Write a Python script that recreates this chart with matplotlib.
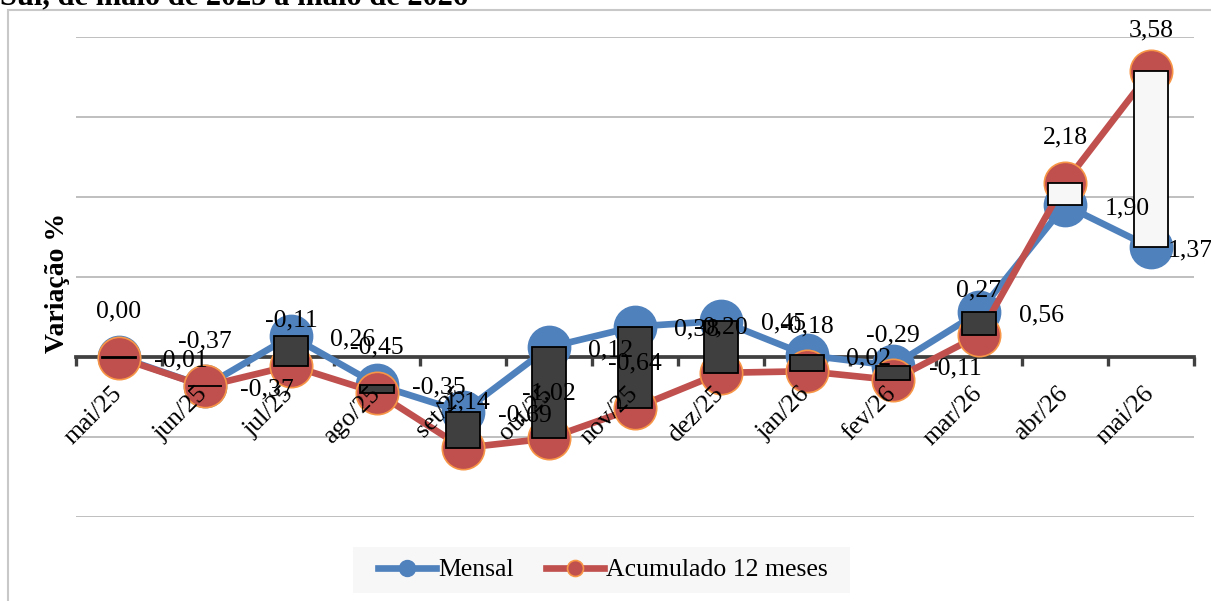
import numpy as np
import matplotlib
matplotlib.use("Agg")
import matplotlib.pyplot as plt
from matplotlib.lines import Line2D
from matplotlib.patches import Rectangle

# ---------------- data ----------------
categories = ["mai/25", "jun/25", "jul/25", "ago/25", "set/25", "out/25", "nov/25",
              "dez/25", "jan/26", "fev/26", "mar/26", "abr/26", "mai/26"]
mensal = [0.00, -0.37, 0.26, -0.35, -0.69, 0.12, 0.38, 0.45, 0.02, -0.11, 0.56, 1.90, 1.37]
acumulado = [-0.01, -0.37, -0.11, -0.45, -1.14, -1.02, -0.64, -0.20, -0.18, -0.29, 0.27, 2.18, 3.58]
series_names = ["Mensal", "Acumulado 12 meses"]
title_text = "Sul, de maio de 2025 a maio de 2026"
ylabel_text = "Variação %"

# ---------------- label placement (pixels) ----------------
ABOVE = (0, 45)
RIGHT = (62, -3)
mensal_label_off = [ABOVE, ABOVE, RIGHT, RIGHT, RIGHT, RIGHT, RIGHT, RIGHT, RIGHT, RIGHT,
                    RIGHT, RIGHT, (39, -3)]
acum_label_off = [RIGHT, RIGHT, ABOVE, ABOVE, ABOVE, ABOVE, ABOVE, ABOVE, ABOVE, ABOVE,
                  ABOVE, ABOVE, (0, 40)]

# ---------------- style ----------------
W, H = 1211, 601
BLUE = "#4F81BD"
RED = "#C0504D"
ORANGE = "#F79646"
AXIS = "#404040"
GRID = "#BFBFBF"
FONT = "Liberation Serif"
FS = 18.5
plt.rcParams["font.family"] = [FONT, "DejaVu Serif"]

fig = plt.figure(figsize=(W / 100, H / 100), dpi=100)
ax = fig.add_axes([76 / W, 1 - 517 / H, 1118 / W, 480 / H])
x = np.arange(len(categories))

ax.set_xlim(-0.5, len(categories) - 0.5)
ax.set_ylim(-2.005, 4.005)

# grid
ax.set_yticks([-2, -1, 0, 1, 2, 3, 4])
ax.yaxis.grid(True, color=GRID, lw=1.4)
ax.tick_params(axis="y", length=0, labelleft=False)
ax.set_axisbelow(True)
for s in ["left", "right", "top"]:
    ax.spines[s].set_visible(False)
ax.spines["bottom"].set_position(("data", 0))
ax.spines["bottom"].set_color(AXIS)
ax.spines["bottom"].set_linewidth(2.7)
ax.spines["bottom"].set_zorder(2.5)

# x ticks at category boundaries
ax.set_xticks(np.arange(-0.5, len(categories) + 0.5, 1.0))
ax.tick_params(axis="x", which="major", direction="out", length=6.5, width=2.4,
               color=AXIS, labelbottom=False)

# category labels
for i, c in enumerate(categories):
    ax.annotate(c, xy=(x[i], 0), xytext=(4, -38), textcoords="offset pixels",
                ha="right", va="baseline", rotation=45, rotation_mode="anchor",
                fontsize=FS, family=FONT, zorder=6)

# series
ax.plot(x, mensal, color=BLUE, lw=4.8, marker="o", ms=30.5, mfc=BLUE, mec=BLUE,
        mew=1, zorder=3, solid_capstyle="round")
ax.plot(x, acumulado, color=RED, lw=4.8, marker="o", ms=30.5, mfc=RED, mec=ORANGE,
        mew=1.2, zorder=3.1, solid_capstyle="round")

# up / down bars
mensal_a = np.array(mensal)
acum_a = np.array(acumulado)
diff = acum_a - mensal_a
faces = ["#F7F7F7" if d > 0 else "#3F3F3F" for d in diff]
ax.bar(x, diff, bottom=mensal_a, width=0.39, color=faces, edgecolor="black",
       linewidth=1.3, zorder=4)

# data labels
def fmt(v):
    return f"{v:.2f}".replace(".", ",")

for i in range(len(categories)):
    ax.annotate(fmt(mensal[i]), xy=(x[i], mensal[i]), xytext=mensal_label_off[i],
                textcoords="offset pixels", ha="center", va="center",
                fontsize=FS, family=FONT, zorder=7, annotation_clip=False)
    ax.annotate(fmt(acumulado[i]), xy=(x[i], acumulado[i]), xytext=acum_label_off[i],
                textcoords="offset pixels", ha="center", va="center",
                fontsize=FS, family=FONT, zorder=7, annotation_clip=False)

# y label
fig.text(58 / W, 1 - 283 / H, ylabel_text, rotation=90, ha="center", va="center",
         fontsize=20, fontweight="bold", family=FONT)

# title (cut at top)
fig.text(0 / W, 1 - 4 / H, title_text, ha="left", va="baseline",
         fontsize=22, fontweight="bold", family=FONT)

# chart area border
fig.add_artist(Rectangle((8 / W, -0.5), 2.0, 1 - 10 / H + 0.5, transform=fig.transFigure,
                         fill=False, edgecolor="#C8C8C8", lw=1.5))

# legend background box
fig.add_artist(Rectangle((353 / W, 1 - 593 / H), (850 - 353) / W, 46 / H,
                         transform=fig.transFigure, facecolor="#F7F7F7", edgecolor="none",
                         zorder=1))

# legend
handles = [
    Line2D([], [], color=BLUE, lw=4.8, marker="o", ms=11.5, mfc=BLUE, mec=BLUE),
    Line2D([], [], color=RED, lw=4.8, marker="o", ms=11.5, mfc=RED, mec=ORANGE, mew=1.2),
]
leg = fig.legend(handles, series_names, loc="center", bbox_to_anchor=(603 / W, 1 - 570 / H),
                 ncol=2, frameon=False, handlelength=2.25, handletextpad=0.1,
                 columnspacing=1.25, borderpad=0.45, prop={"family": FONT, "size": FS})
leg.set_zorder(5)

fig.savefig("out.png", dpi=100)
